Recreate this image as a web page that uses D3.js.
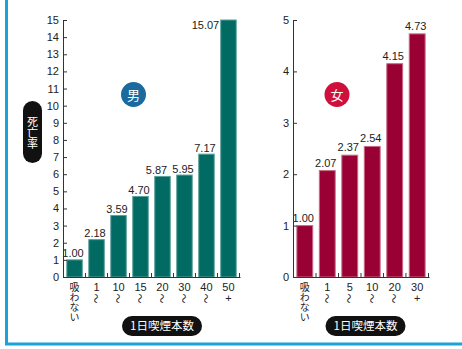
<!doctype html>
<html lang="ja">
<head>
<meta charset="utf-8">
<script src="https://cdn.jsdelivr.net/npm/d3@7/dist/d3.min.js"></script>
<style>
  body {margin:0; background:#fff}
  svg {display:block}
  .num {font-family:"Liberation Sans", Arial, sans-serif}
  .jp {font-family:"Noto Sans CJK JP", sans-serif}
  .vert {writing-mode:vertical-rl; text-orientation:upright}
</style>
</head>
<body>
<script>
// data
const menCats = ["吸わない", "1〜", "10〜", "15〜", "20〜", "30〜", "40〜", "50+"];
const menValues = [1.00, 2.18, 3.59, 4.70, 5.87, 5.95, 7.17, 15.07];
const menTicks = [0, 1, 2, 3, 4, 5, 6, 7, 8, 9, 10, 11, 12, 13, 14, 15];

const womenCats = ["吸わない", "1〜", "5〜", "10〜", "20〜", "30+"];
const womenValues = [1.00, 2.07, 2.37, 2.54, 4.15, 4.73];
const womenTicks = [0, 1, 2, 3, 4, 5];

const W = 462, H = 349;
const svg = d3.select("body").append("svg").attr("width", W).attr("height", H);

// frame
svg.append("line").attr("x1", 6.5).attr("x2", 6.5).attr("y1", 0).attr("y2", 345)
  .attr("stroke", "#1aa3d9").attr("stroke-width", 3);
svg.append("line").attr("x1", 5).attr("x2", W).attr("y1", 344).attr("y2", 344)
  .attr("stroke", "#1aa3d9").attr("stroke-width", 3);

function drawPanel(cfg) {
  let x = d3.scaleBand().domain(cfg.cats).range([cfg.x0, cfg.x1])
    .paddingInner(0.25).paddingOuter(0.15);
  let y = d3.scaleLinear().domain([0, cfg.max]).range([277, 20]);
  let g = svg.append("g");

  // bars
  g.selectAll("rect.bar")
    .data(cfg.values)
    .enter()
    .append("rect")
    .attr("class", "bar")
    .attr("x", (d, i) => x(cfg.cats[i]) + 0.5)
    .attr("y", d => y(Math.min(d, cfg.max)))
    .attr("width", x.bandwidth() - 1)
    .attr("height", d => y(0) - y(Math.min(d, cfg.max)))
    .attr("fill", cfg.color)
    .attr("stroke", cfg.edge)
    .attr("stroke-width", 1);

  // value labels (the one too tall for the frame sits left of its bar)
  g.selectAll("text.val")
    .data(cfg.values)
    .enter()
    .append("text")
    .attr("class", "num")
    .attr("font-size", "11px")
    .attr("fill", "#222")
    .attr("text-anchor", d => y(d) < 32 ? "end" : "middle")
    .attr("x", (d, i) => y(d) < 32 ? x(cfg.cats[i]) - 1
      : x(cfg.cats[i]) + x.bandwidth() / 2 - 1.5 + (cfg.nudge[i] || 0))
    .attr("y", d => y(d) < 32 ? 29 : y(d) - cfg.gap)
    .text(d => d.toFixed(2));

  // y axis
  let yAxis = d3.axisLeft(y).tickValues(cfg.ticks).tickFormat(d3.format("d"))
    .tickSizeInner(-4).tickSizeOuter(0).tickPadding(4);
  let ya = g.append("g").attr("transform", "translate(" + cfg.x0 + ",0)").call(yAxis);
  ya.selectAll("text").attr("class", "num").attr("font-size", "11px").attr("fill", "#222");
  ya.selectAll("line, path").attr("stroke", "#333");

  // x axis
  let xAxis = d3.axisBottom(x).tickSize(0).tickFormat("");
  let xa = g.append("g").attr("transform", "translate(0,277)").call(xAxis);
  xa.select("path").attr("stroke", "#333");
  let half = x.step() * x.paddingInner() / 2;
  let seps = cfg.cats.slice(1).map(c => x(c) - half);
  seps.push(cfg.x1 - 0.5);
  g.selectAll("line.sep").data(seps).enter().append("line")
    .attr("x1", d => d).attr("x2", d => d).attr("y1", 277).attr("y2", 273)
    .attr("stroke", "#333");

  // category labels
  cfg.cats.forEach((c, i) => {
    let cx = x(c) + x.bandwidth() / 2;
    if (c == "吸わない") {
      g.append("text").attr("class", "jp vert").attr("font-size", "10px").attr("fill", "#222")
        .attr("x", cx).attr("y", 282).text(c);
    } else {
      let num = c.replace(/[〜+]/g, "");
      let suf = c.slice(num.length);
      g.append("text").attr("class", "num").attr("font-size", "11px").attr("fill", "#222")
        .attr("text-anchor", "middle").attr("x", cx).attr("y", 291).text(num);
      if (suf == "〜") {
        g.append("text").attr("class", "jp").attr("font-size", "10px").attr("fill", "#222")
          .attr("text-anchor", "middle").attr("dominant-baseline", "central")
          .attr("transform", "translate(" + cx + ",298.5) rotate(90)").text(suf);
      } else {
        g.append("text").attr("class", "num").attr("font-size", "11px").attr("fill", "#222")
          .attr("text-anchor", "middle").attr("x", cx).attr("y", 302).text(suf);
      }
    }
  });

  // x title pill
  g.append("rect").attr("x", cfg.pillX - 40).attr("y", 316).attr("width", 80).attr("height", 20)
    .attr("rx", 10).attr("fill", "#111");
  g.append("text").attr("class", "jp").attr("font-size", "11.5px").attr("fill", "#fff")
    .attr("text-anchor", "middle").attr("x", cfg.pillX).attr("y", 330).text("1日喫煙本数");

  // sex badge
  g.append("circle").attr("cx", cfg.badgeX).attr("cy", 94.5).attr("r", 12.5).attr("fill", cfg.badgeColor);
  g.append("text").attr("class", "jp").attr("font-size", "13px").attr("fill", "#fff")
    .attr("text-anchor", "middle").attr("x", cfg.badgeX).attr("y", 99.5).text(cfg.sex);
}

drawPanel({cats: menCats, values: menValues, ticks: menTicks, max: 15,
  x0: 63, x1: 240, color: "#006a63", edge: "#5b9f9a", gap: 2.5, nudge: {4: -4.5},
  pillX: 162, badgeX: 133.5, badgeColor: "#1a6a9e", sex: "男"});

drawPanel({cats: womenCats, values: womenValues, ticks: womenTicks, max: 5,
  x0: 293, x1: 429, color: "#990033", edge: "#c86a86", gap: 4, nudge: {},
  pillX: 365.5, badgeX: 337, badgeColor: "#d0103c", sex: "女"});

// y title pill
svg.append("rect").attr("x", 23).attr("y", 101).attr("width", 19).attr("height", 62)
  .attr("rx", 9.5).attr("fill", "#111");
svg.append("text").attr("class", "jp vert").attr("font-size", "11px").attr("fill", "#fff")
  .attr("x", 32.5).attr("y", 116).text("死亡率");
</script>
</body>
</html>
